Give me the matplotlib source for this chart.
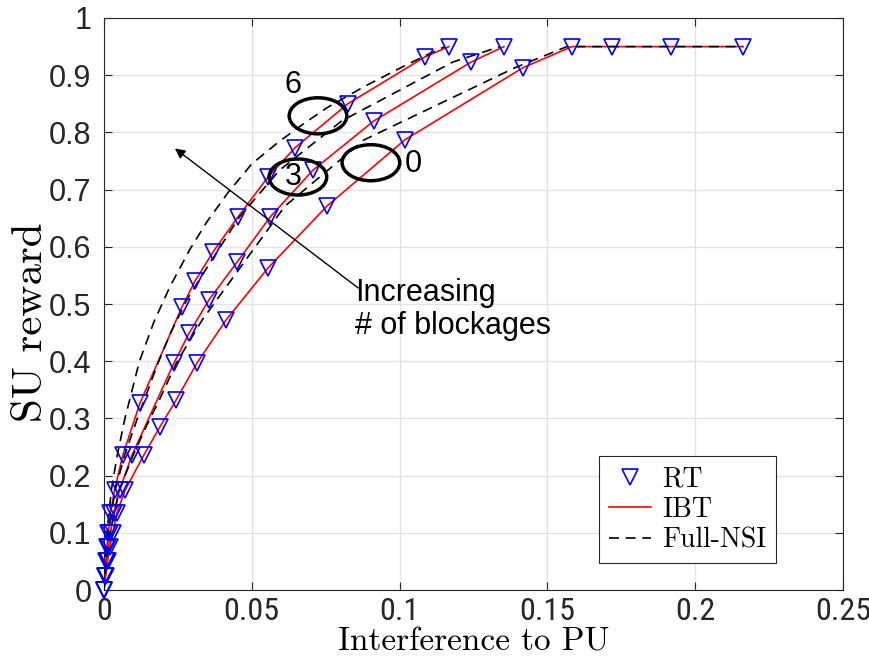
import matplotlib
matplotlib.use("Agg")
import matplotlib.pyplot as plt
from matplotlib.patches import Ellipse
from matplotlib.lines import Line2D
from matplotlib import font_manager
from matplotlib.font_manager import FontProperties

# Curvas RT / IBT (los marcadores RT caen sobre las curvas IBT)
x_6 = [0, 0.0003, 0.0006, 0.001, 0.0015, 0.0022, 0.0036, 0.0064, 0.0122, 0.0264,
       0.0308, 0.0369, 0.0453, 0.0555, 0.0646, 0.0825, 0.1086, 0.1167]
y_6 = [0, 0.025, 0.05, 0.075, 0.10, 0.135, 0.175, 0.236, 0.327, 0.495,
       0.540, 0.591, 0.652, 0.722, 0.773, 0.850, 0.932, 0.95]

x_3 = [0, 0.00044, 0.0009, 0.0015, 0.0022, 0.0033, 0.0053, 0.0095, 0.0237, 0.0288,
       0.0355, 0.045, 0.0562, 0.0707, 0.0913, 0.1242, 0.1353]
y_3 = [0, 0.025, 0.05, 0.075, 0.10, 0.135, 0.175, 0.236, 0.397, 0.449,
       0.507, 0.573, 0.652, 0.734, 0.820, 0.923, 0.95]

x_0 = [0, 0.0006, 0.0012, 0.002, 0.003, 0.0044, 0.0072, 0.0135, 0.0189, 0.0244,
       0.0315, 0.0413, 0.0555, 0.0754, 0.1018, 0.1417, 0.1583, 0.1719, 0.1918, 0.2162]
y_0 = [0, 0.025, 0.05, 0.075, 0.10, 0.135, 0.175, 0.236, 0.285, 0.332,
       0.397, 0.472, 0.563, 0.671, 0.787, 0.913, 0.95, 0.95, 0.95, 0.95]

# Curvas Full-NSI
xf_6 = [0, 0.0004, 0.001, 0.0025, 0.0045, 0.0071, 0.012, 0.017, 0.0223, 0.029,
        0.035, 0.042, 0.050, 0.0595, 0.0675, 0.0754, 0.088, 0.100, 0.109, 0.1153]
yf_6 = [0, 0.05, 0.10, 0.175, 0.236, 0.30, 0.40, 0.47, 0.53, 0.595,
        0.645, 0.695, 0.745, 0.785, 0.815, 0.843, 0.88, 0.912, 0.935, 0.95]

xf_3 = [0, 0.0006, 0.0015, 0.0038, 0.0070, 0.0113, 0.0183, 0.0225, 0.0280, 0.0360,
        0.0458, 0.0594, 0.0804, 0.1180, 0.134]
yf_3 = [0, 0.05, 0.10, 0.175, 0.236, 0.30, 0.397, 0.449, 0.507, 0.573,
        0.652, 0.734, 0.82, 0.923, 0.95]

xf_0 = [0, 0.0008, 0.0021, 0.0052, 0.0099, 0.0142, 0.0187, 0.0245, 0.0332, 0.046,
        0.0612, 0.088, 0.139, 0.1566, 0.2162]
yf_0 = [0, 0.05, 0.10, 0.175, 0.236, 0.285, 0.332, 0.397, 0.472, 0.563,
        0.671, 0.787, 0.913, 0.95, 0.95]

x_ticks = [0, 0.05, 0.1, 0.15, 0.2, 0.25]
x_labels = ["0", "0.05", "0.1", "0.15", "0.2", "0.25"]
y_ticks = [0, 0.1, 0.2, 0.3, 0.4, 0.5, 0.6, 0.7, 0.8, 0.9, 1]
y_labels = ["0", "0.1", "0.2", "0.3", "0.4", "0.5", "0.6", "0.7", "0.8", "0.9", "1"]


def fuente_estrecha(size):
    # busca una sans estrecha instalada; si no hay, Liberation Sans normal
    lista = font_manager.fontManager.ttflist
    for nombre in ("Liberation Sans Narrow", "Arial Narrow", "Roboto Condensed",
                   "Open Sans Condensed", "DejaVu Sans Condensed"):
        for f in lista:
            if f.name == nombre and f.style == "normal" and f.weight in (400, "normal"):
                return FontProperties(fname=f.fname, size=size)
    for f in lista:
        if (f.name in ("DejaVu Sans", "Roboto", "Open Sans", "Noto Sans")
                and f.stretch in ("condensed", "semi-condensed")
                and f.style == "normal" and f.weight in (400, "normal")):
            return FontProperties(fname=f.fname, size=size)
    return FontProperties(family="Liberation Sans", size=size - 2)


serif = "cmr10"

fig = plt.figure(figsize=(8.7, 6.64), dpi=100)
ax = fig.add_axes([0.1195, 0.1114, 0.8495, 0.8615])

for xs, ys in [(x_6, y_6), (x_3, y_3), (x_0, y_0)]:
    ax.plot(xs, ys, color="red", lw=1.2, zorder=2)
for xs, ys in [(xf_6, yf_6), (xf_3, yf_3), (xf_0, yf_0)]:
    ax.plot(xs, ys, color="black", lw=1.2, ls=(0, (6, 4)), zorder=3)
for xs, ys in [(x_6, y_6), (x_3, y_3), (x_0, y_0)]:
    ax.plot(xs, ys, ls="none", marker="v", ms=11, mfc="none", mec="blue",
            mew=1.2, zorder=4, clip_on=False)

# Elipses y etiquetas
for cx, cy, lab, tx, ty in [(0.0724, 0.829, "6", 0.0639, 0.883),
                            (0.0656, 0.722, "3", 0.0639, 0.722),
                            (0.0903, 0.747, "0", 0.1045, 0.745)]:
    ax.add_patch(Ellipse((cx, cy), 0.0195, 0.063, fill=False, ec="black",
                         lw=2.5, zorder=5))
    ax.text(tx, ty, lab, fontsize=22, family="Liberation Sans",
            ha="center", va="center", zorder=6)

ax.annotate("", xy=(0.0240, 0.772), xytext=(0.0860, 0.528),
            arrowprops=dict(arrowstyle="-|>", color="black", lw=1,
                            mutation_scale=15, shrinkA=0, shrinkB=0), zorder=6)
ax.text(0.0849, 0.545, "Increasing\n# of blockages", fontsize=22,
        family="Liberation Sans", ha="left", va="top", linespacing=1.12)

ax.set_xlim(0, 0.25)
ax.set_ylim(0, 1)
ax.set_xticks(x_ticks)
ax.set_xticklabels(x_labels, fontproperties=fuente_estrecha(23))
ax.set_yticks(y_ticks)
ax.set_yticklabels(y_labels, family="Liberation Sans", fontsize=22)
ax.tick_params(axis="y", pad=9)
ax.tick_params(axis="x", pad=5)
ax.tick_params(direction="in", top=True, right=True, length=6, colors="#262626")
ax.grid(True, color="#e3e3e3", lw=1)
ax.set_axisbelow(True)
for s in ax.spines.values():
    s.set_color("#262626")

ax.set_xlabel("Interference to PU", family=serif, fontsize=24)
ax.xaxis.set_label_coords(0.5, -0.066)
ax.set_ylabel("SU reward", family=serif, fontsize=31)
ax.yaxis.set_label_coords(-0.073, 0.468)

handles = [Line2D([], [], ls="none", marker="v", ms=11, mfc="none", mec="blue", mew=1.2),
           Line2D([], [], color="red", lw=1.2),
           Line2D([], [], color="black", lw=1.2, ls=(0, (6, 4)))]
leg = ax.legend(handles, ["RT", "IBT", "Full-NSI"], loc="lower right",
                bbox_to_anchor=(0.909, 0.047), borderaxespad=0, fancybox=False,
                edgecolor="#262626", framealpha=1, prop={"family": serif, "size": 20},
                handlelength=1.5, handletextpad=0.4, labelspacing=0.15,
                borderpad=0.35)
leg.get_frame().set_linewidth(0.8)

fig.savefig("out.png", dpi=100)
